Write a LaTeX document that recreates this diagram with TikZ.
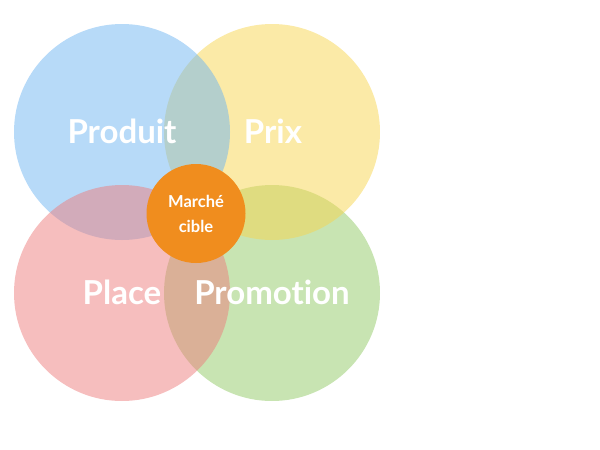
\documentclass[tikz,border=0pt]{standalone}
\usepackage{fontspec}
\setmainfont{Lato}[Ligatures={NoCommon,NoRare}]
\definecolor{cblue}{RGB}{111,181,241}
\definecolor{cyellow}{RGB}{247,213,79}
\definecolor{cred}{RGB}{237,125,125}
\definecolor{cgreen}{RGB}{145,201,101}
\definecolor{corange}{RGB}{240,141,30}
\tikzset{
  petal/.style={circle, minimum size=216pt, inner sep=0pt, fill opacity=0.5},
  biglabel/.style={text=white, font=\bfseries\fontsize{33}{35}\selectfont, inner sep=0pt},
  core/.style={circle, minimum size=99pt, inner sep=0pt, fill=corange, text=white,
    align=center, font=\bfseries\fontsize{16.5}{25}\selectfont}
}
\begin{document}
\begin{tikzpicture}[x=1pt,y=-1pt]
\useasboundingbox (0,0) rectangle (600,450);
\node[petal, fill=cgreen]  (promotion) at (272,293) {};
\node[petal, fill=cyellow] (prix)      at (272,132) {};
\node[petal, fill=cblue]   (produit)   at (122,132) {};
\node[petal, fill=cred]    (place)     at (122,293) {};
\node[biglabel] (tproduit)   at (122,131) {Produit};
\node[biglabel] (tprix)      at (273,131) {Prix};
\node[biglabel] (tplace)     at (122,292) {Place};
\node[biglabel] (tpromotion) at (272,292) {Promotion};
\node[core] (marche) at (196,213.5) {Marché\\cible};
\end{tikzpicture}
\end{document}
